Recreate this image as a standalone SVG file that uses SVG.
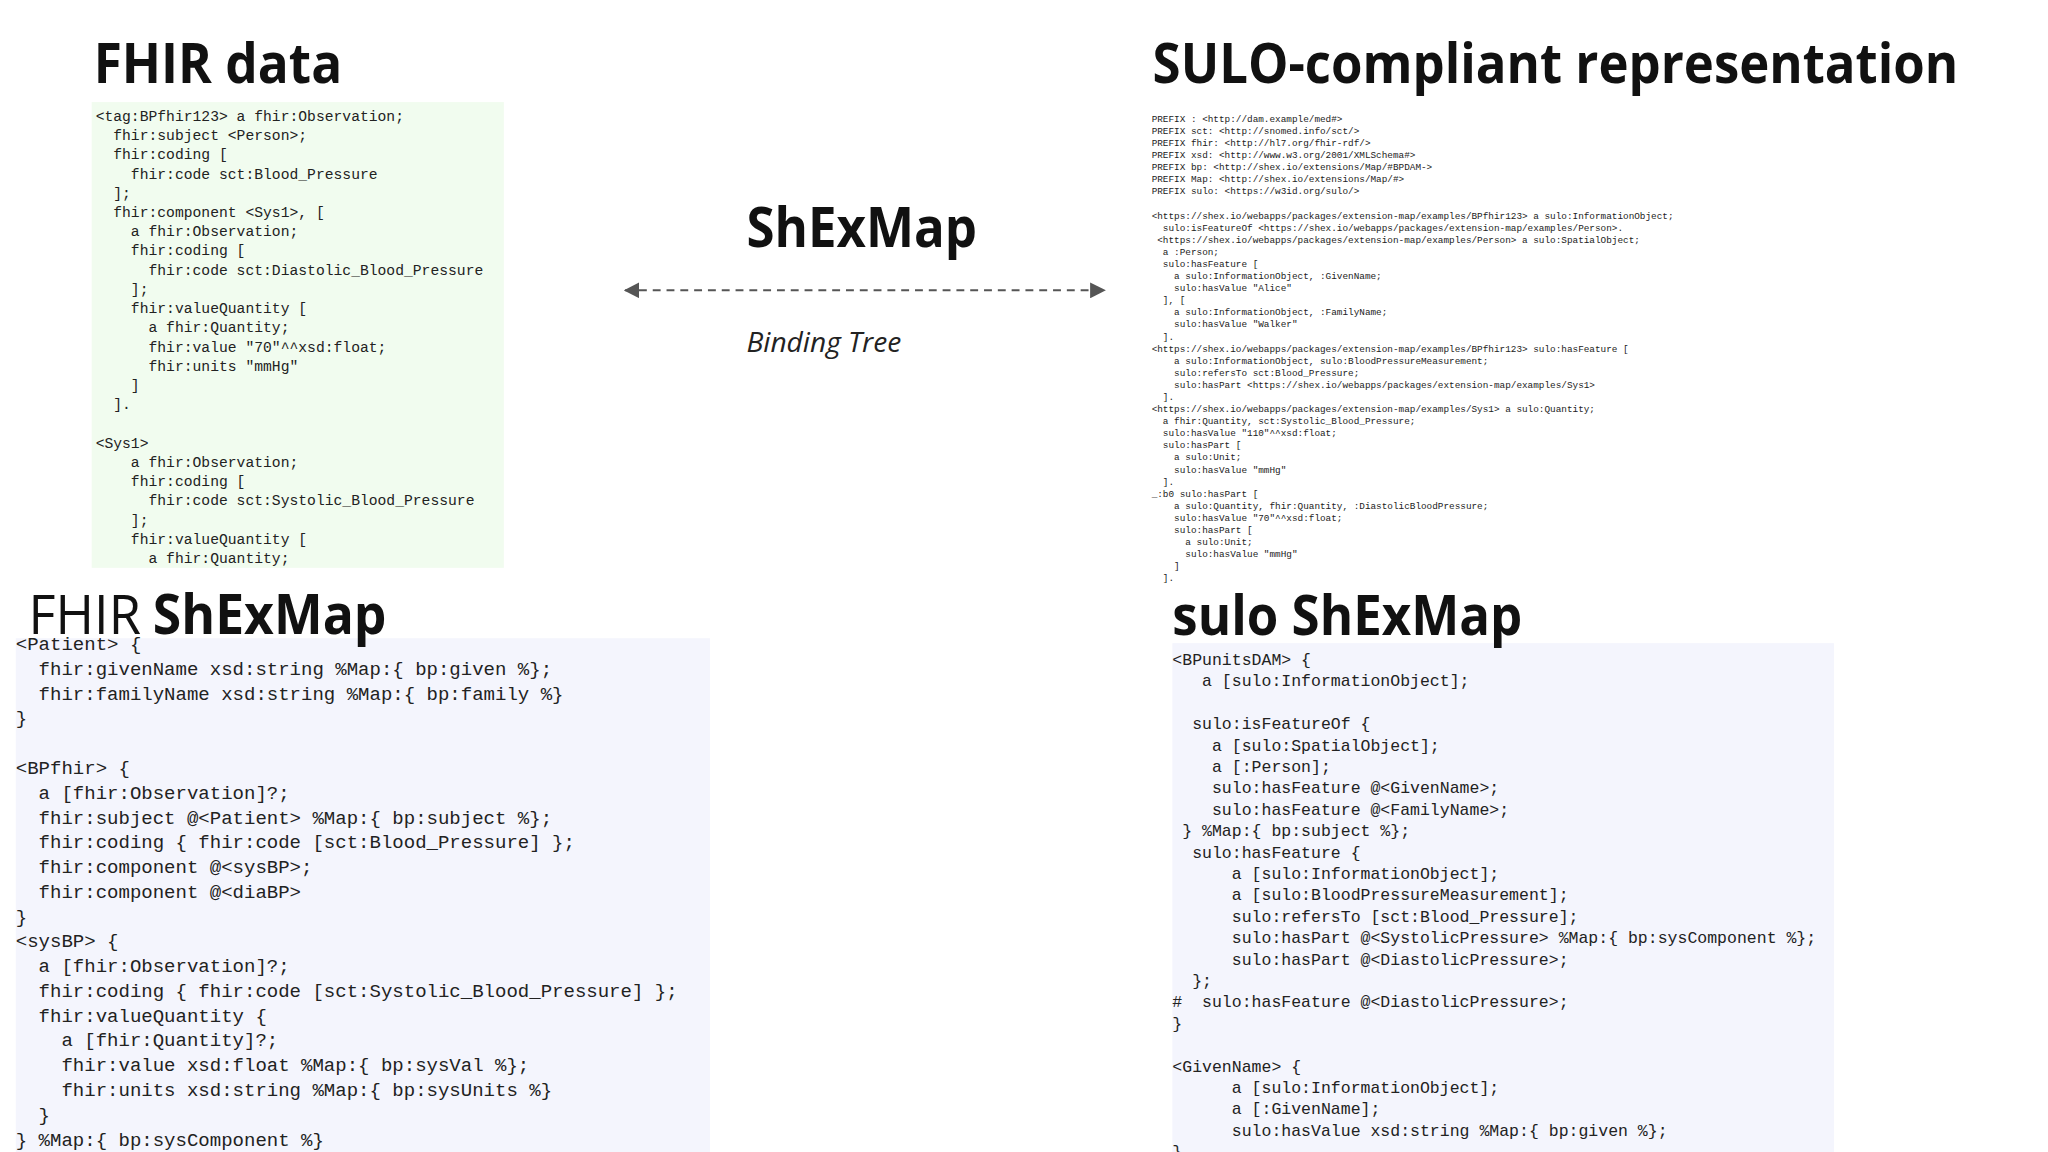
<svg xmlns="http://www.w3.org/2000/svg" width="2048" height="1152" viewBox="0 0 2048 1152">
<style>
.t{font-family:"Open Sans","Noto Sans",sans-serif;font-weight:700;font-size:56px;fill:#111}
.r{font-weight:400}
.g{font-family:"Liberation Mono",monospace;font-size:14.9px;fill:#222;white-space:pre}
.s{font-family:"Liberation Mono",monospace;font-size:9.5px;fill:#222;white-space:pre}
.m{font-family:"Liberation Mono",monospace;font-size:19.3px;fill:#222;white-space:pre}
.n{font-family:"Liberation Mono",monospace;font-size:16.75px;fill:#222;white-space:pre}
</style>
<defs>
<marker id="ah" viewBox="0 0 10 10" refX="9" refY="5" markerWidth="16" markerHeight="16" markerUnits="userSpaceOnUse" orient="auto-start-reverse"><path d="M0,0 L10,5 L0,10 z" fill="#555"/></marker>
</defs>
<rect width="2048" height="1152" fill="#fff"/>
<g transform="scale(0.986,0.991)">
<g id="fhir-data">
<text class="t" x="95" y="84" textLength="252" lengthAdjust="spacingAndGlyphs">FHIR data</text>
<rect x="93" y="103" width="418" height="470" fill="#f1fcef"/>
<text class="g" x="97" y="122" xml:space="preserve"><tspan x="97">&lt;tag:BPfhir123&gt; a fhir:Observation;</tspan><tspan x="97" dy="19.4">  fhir:subject &lt;Person&gt;;</tspan><tspan x="97" dy="19.4">  fhir:coding [</tspan><tspan x="97" dy="19.4">    fhir:code sct:Blood_Pressure</tspan><tspan x="97" dy="19.4">  ];</tspan><tspan x="97" dy="19.4">  fhir:component &lt;Sys1&gt;, [</tspan><tspan x="97" dy="19.4">    a fhir:Observation;</tspan><tspan x="97" dy="19.4">    fhir:coding [</tspan><tspan x="97" dy="19.4">      fhir:code sct:Diastolic_Blood_Pressure</tspan><tspan x="97" dy="19.4">    ];</tspan><tspan x="97" dy="19.4">    fhir:valueQuantity [</tspan><tspan x="97" dy="19.4">      a fhir:Quantity;</tspan><tspan x="97" dy="19.4">      fhir:value "70"^^xsd:float;</tspan><tspan x="97" dy="19.4">      fhir:units "mmHg"</tspan><tspan x="97" dy="19.4">    ]</tspan><tspan x="97" dy="19.4">  ].</tspan><tspan x="97" dy="38.8">&lt;Sys1&gt;</tspan><tspan x="97" dy="19.4">    a fhir:Observation;</tspan><tspan x="97" dy="19.4">    fhir:coding [</tspan><tspan x="97" dy="19.4">      fhir:code sct:Systolic_Blood_Pressure</tspan><tspan x="97" dy="19.4">    ];</tspan><tspan x="97" dy="19.4">    fhir:valueQuantity [</tspan><tspan x="97" dy="19.4">      a fhir:Quantity;</tspan></text>
</g>
<g id="shexmap-center">
<text class="t" x="757" y="249" textLength="234" lengthAdjust="spacingAndGlyphs">ShExMap</text>
<text x="757" y="355" font-family="'Open Sans','Noto Sans',sans-serif" font-style="italic" font-size="27" fill="#222" textLength="157" lengthAdjust="spacingAndGlyphs">Binding Tree</text>
</g>
<g id="connectors">
<line x1="634" y1="293" x2="1120" y2="293" stroke="#555" stroke-width="2" stroke-dasharray="8,6" marker-start="url(#ah)" marker-end="url(#ah)"/>
</g>
<g id="sulo-rep">
<text class="t" x="1169" y="84" textLength="817" lengthAdjust="spacingAndGlyphs">SULO-compliant representation</text>
<text class="s" x="1168" y="123" xml:space="preserve"><tspan x="1168">PREFIX : &lt;http://dam.example/med#&gt;</tspan><tspan x="1168" dy="12.2">PREFIX sct: &lt;http://snomed.info/sct/&gt;</tspan><tspan x="1168" dy="12.2">PREFIX fhir: &lt;http://hl7.org/fhir-rdf/&gt;</tspan><tspan x="1168" dy="12.2">PREFIX xsd: &lt;http://www.w3.org/2001/XMLSchema#&gt;</tspan><tspan x="1168" dy="12.2">PREFIX bp: &lt;http://shex.io/extensions/Map/#BPDAM-&gt;</tspan><tspan x="1168" dy="12.2">PREFIX Map: &lt;http://shex.io/extensions/Map/#&gt;</tspan><tspan x="1168" dy="12.2">PREFIX sulo: &lt;https://w3id.org/sulo/&gt;</tspan><tspan x="1168" dy="24.4">&lt;https://shex.io/webapps/packages/extension-map/examples/BPfhir123&gt; a sulo:InformationObject;</tspan><tspan x="1168" dy="12.2">  sulo:isFeatureOf &lt;https://shex.io/webapps/packages/extension-map/examples/Person&gt;.</tspan><tspan x="1168" dy="12.2"> &lt;https://shex.io/webapps/packages/extension-map/examples/Person&gt; a sulo:SpatialObject;</tspan><tspan x="1168" dy="12.2">  a :Person;</tspan><tspan x="1168" dy="12.2">  sulo:hasFeature [</tspan><tspan x="1168" dy="12.2">    a sulo:InformationObject, :GivenName;</tspan><tspan x="1168" dy="12.2">    sulo:hasValue "Alice"</tspan><tspan x="1168" dy="12.2">  ], [</tspan><tspan x="1168" dy="12.2">    a sulo:InformationObject, :FamilyName;</tspan><tspan x="1168" dy="12.2">    sulo:hasValue "Walker"</tspan><tspan x="1168" dy="12.2">  ].</tspan><tspan x="1168" dy="12.2">&lt;https://shex.io/webapps/packages/extension-map/examples/BPfhir123&gt; sulo:hasFeature [</tspan><tspan x="1168" dy="12.2">    a sulo:InformationObject, sulo:BloodPressureMeasurement;</tspan><tspan x="1168" dy="12.2">    sulo:refersTo sct:Blood_Pressure;</tspan><tspan x="1168" dy="12.2">    sulo:hasPart &lt;https://shex.io/webapps/packages/extension-map/examples/Sys1&gt;</tspan><tspan x="1168" dy="12.2">  ].</tspan><tspan x="1168" dy="12.2">&lt;https://shex.io/webapps/packages/extension-map/examples/Sys1&gt; a sulo:Quantity;</tspan><tspan x="1168" dy="12.2">  a fhir:Quantity, sct:Systolic_Blood_Pressure;</tspan><tspan x="1168" dy="12.2">  sulo:hasValue "110"^^xsd:float;</tspan><tspan x="1168" dy="12.2">  sulo:hasPart [</tspan><tspan x="1168" dy="12.2">    a sulo:Unit;</tspan><tspan x="1168" dy="12.2">    sulo:hasValue "mmHg"</tspan><tspan x="1168" dy="12.2">  ].</tspan><tspan x="1168" dy="12.2">_:b0 sulo:hasPart [</tspan><tspan x="1168" dy="12.2">    a sulo:Quantity, fhir:Quantity, :DiastolicBloodPressure;</tspan><tspan x="1168" dy="12.2">    sulo:hasValue "70"^^xsd:float;</tspan><tspan x="1168" dy="12.2">    sulo:hasPart [</tspan><tspan x="1168" dy="12.2">      a sulo:Unit;</tspan><tspan x="1168" dy="12.2">      sulo:hasValue "mmHg"</tspan><tspan x="1168" dy="12.2">    ]</tspan><tspan x="1168" dy="12.2">  ].</tspan></text>
</g>
<g id="fhir-shexmap">
<rect x="16" y="644" width="704" height="520" fill="#f4f5fd"/>
<text class="t r" x="29" y="640" textLength="114" lengthAdjust="spacingAndGlyphs">FHIR</text>
<text class="t" x="155" y="640" textLength="237" lengthAdjust="spacingAndGlyphs">ShExMap</text>
<text class="m" x="16" y="656" xml:space="preserve"><tspan x="16">&lt;Patient&gt; {</tspan><tspan x="16" dy="25">  fhir:givenName xsd:string %Map:{ bp:given %};</tspan><tspan x="16" dy="25">  fhir:familyName xsd:string %Map:{ bp:family %}</tspan><tspan x="16" dy="25">}</tspan><tspan x="16" dy="50">&lt;BPfhir&gt; {</tspan><tspan x="16" dy="25">  a [fhir:Observation]?;</tspan><tspan x="16" dy="25">  fhir:subject @&lt;Patient&gt; %Map:{ bp:subject %};</tspan><tspan x="16" dy="25">  fhir:coding { fhir:code [sct:Blood_Pressure] };</tspan><tspan x="16" dy="25">  fhir:component @&lt;sysBP&gt;;</tspan><tspan x="16" dy="25">  fhir:component @&lt;diaBP&gt;</tspan><tspan x="16" dy="25">}</tspan><tspan x="16" dy="25">&lt;sysBP&gt; {</tspan><tspan x="16" dy="25">  a [fhir:Observation]?;</tspan><tspan x="16" dy="25">  fhir:coding { fhir:code [sct:Systolic_Blood_Pressure] };</tspan><tspan x="16" dy="25">  fhir:valueQuantity {</tspan><tspan x="16" dy="25">    a [fhir:Quantity]?;</tspan><tspan x="16" dy="25">    fhir:value xsd:float %Map:{ bp:sysVal %};</tspan><tspan x="16" dy="25">    fhir:units xsd:string %Map:{ bp:sysUnits %}</tspan><tspan x="16" dy="25">  }</tspan><tspan x="16" dy="25">} %Map:{ bp:sysComponent %}</tspan></text>
</g>
<g id="sulo-shexmap">
<rect x="1189" y="649" width="671" height="520" fill="#f4f5fd"/>
<text class="t" x="1189" y="641" textLength="355" lengthAdjust="spacingAndGlyphs">sulo ShExMap</text>
<text class="n" x="1189" y="671" xml:space="preserve"><tspan x="1189">&lt;BPunitsDAM&gt; {</tspan><tspan x="1189" dy="21.6">   a [sulo:InformationObject];</tspan><tspan x="1189" dy="43.2">  sulo:isFeatureOf {</tspan><tspan x="1189" dy="21.6">    a [sulo:SpatialObject];</tspan><tspan x="1189" dy="21.6">    a [:Person];</tspan><tspan x="1189" dy="21.6">    sulo:hasFeature @&lt;GivenName&gt;;</tspan><tspan x="1189" dy="21.6">    sulo:hasFeature @&lt;FamilyName&gt;;</tspan><tspan x="1189" dy="21.6"> } %Map:{ bp:subject %};</tspan><tspan x="1189" dy="21.6">  sulo:hasFeature {</tspan><tspan x="1189" dy="21.6">      a [sulo:InformationObject];</tspan><tspan x="1189" dy="21.6">      a [sulo:BloodPressureMeasurement];</tspan><tspan x="1189" dy="21.6">      sulo:refersTo [sct:Blood_Pressure];</tspan><tspan x="1189" dy="21.6">      sulo:hasPart @&lt;SystolicPressure&gt; %Map:{ bp:sysComponent %};</tspan><tspan x="1189" dy="21.6">      sulo:hasPart @&lt;DiastolicPressure&gt;;</tspan><tspan x="1189" dy="21.6">  };</tspan><tspan x="1189" dy="21.6">#  sulo:hasFeature @&lt;DiastolicPressure&gt;;</tspan><tspan x="1189" dy="21.6">}</tspan><tspan x="1189" dy="43.2">&lt;GivenName&gt; {</tspan><tspan x="1189" dy="21.6">      a [sulo:InformationObject];</tspan><tspan x="1189" dy="21.6">      a [:GivenName];</tspan><tspan x="1189" dy="21.6">      sulo:hasValue xsd:string %Map:{ bp:given %};</tspan><tspan x="1189" dy="21.6">}</tspan></text>
</g>
</g>
</svg>
